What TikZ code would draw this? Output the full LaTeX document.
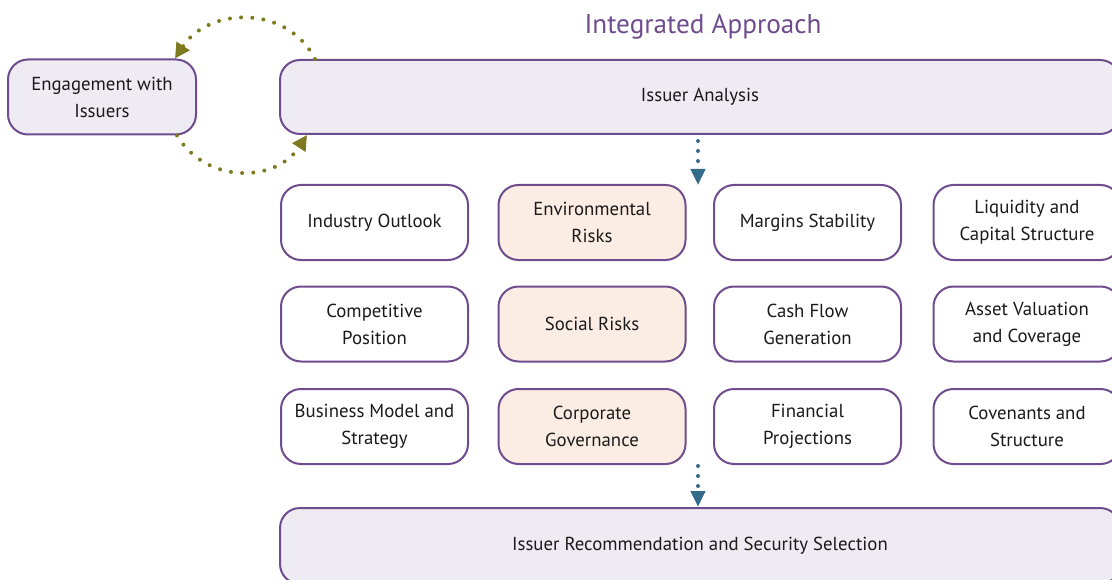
\documentclass[tikz,border=0pt]{standalone}
\usepackage{fontspec}
\setmainfont{PT Sans}
\usetikzlibrary{arrows.meta}
\definecolor{plum}{HTML}{6E4C8E}
\definecolor{lavfill}{HTML}{EEEBF2}
\definecolor{peach}{HTML}{FBEDE4}
\definecolor{olive}{HTML}{7D7A1F}
\definecolor{steel}{HTML}{336B8A}
\definecolor{ink}{HTML}{1A1A1A}

\tikzset{
  bx/.style={draw=plum, line width=1pt, rounded corners=10pt, fill=white,
    minimum width=93.5pt, minimum height=37.5pt, align=center, text=ink,
    font=\fontsize{9.4}{13.5}\selectfont, inner sep=2pt},
  riskbx/.style={bx, fill=peach},
  widebx/.style={bx, fill=lavfill, minimum width=420pt},
  cyc/.style={olive, line width=2pt, line cap=round, dash pattern=on 0pt off 5.6pt,
    -{Triangle[length=7.5pt,width=7.5pt]}},
  flow/.style={steel, line width=2pt, line cap=round, dash pattern=on 0pt off 5pt,
    -{Triangle[length=8pt,width=7pt]}, shorten <=3pt}
}

\begin{document}
\begin{tikzpicture}[x=0.5pt,y=0.5pt]
  \useasboundingbox (0,0) rectangle (1112,579);
  \clip (0,0) rectangle (1112,579);

  % title
  \node[text=plum, font=\fontsize{13.6}{16}\selectfont] (title) at (703,552) {Integrated Approach};

  % top row
  \node[bx, fill=lavfill, minimum width=94pt] (eng) at (102,482) {Engagement with\\Issuers};
  \node[widebx, minimum height=37pt] (ia) at (700,482) {Issuer Analysis};

  % grid of factors
  \node[bx] (indus) at (374.5,356.5) {Industry Outlook};
  \node[riskbx] (env) at (592,356.5) {Environmental\\Risks};
  \node[bx] (marg) at (807.5,356.5) {Margins Stability};
  \node[bx] (liq) at (1027,356.5) {Liquidity and\\Capital Structure};

  \node[bx] (comp) at (374.5,255) {Competitive\\Position};
  \node[riskbx] (soc) at (592,255) {Social Risks};
  \node[bx] (cash) at (807.5,255) {Cash Flow\\Generation};
  \node[bx] (asset) at (1027,255) {Asset Valuation\\and Coverage};

  \node[bx] (biz) at (374.5,152.5) {Business Model and\\Strategy};
  \node[riskbx] (gov) at (592,152.5) {Corporate\\Governance};
  \node[bx] (proj) at (807.5,152.5) {Financial\\Projections};
  \node[bx] (cov) at (1027,152.5) {Covenants and\\Structure};

  % bottom row
  \node[widebx, minimum height=38pt] (rec) at (700,33) {Issuer Recommendation and Security Selection};

  % free ends of the flow arrows
  \coordinate (gtop) at (698,394);
  \coordinate (gbot) at (698,119);

  % connectors
  \draw[cyc] ([xshift=18pt]ia.north west) to[out=117,in=57,looseness=1.12] ([xshift=-11pt]eng.north east);
  \draw[cyc] ([xshift=-10pt]eng.south east) to[out=-59,in=-123,looseness=1.12] ([xshift=14pt]ia.south west);
  \draw[flow] ([xshift=-1pt]ia.south) -- (gtop);
  \draw[flow] (gbot) -- ([xshift=-1pt]rec.north);
\end{tikzpicture}
\end{document}
